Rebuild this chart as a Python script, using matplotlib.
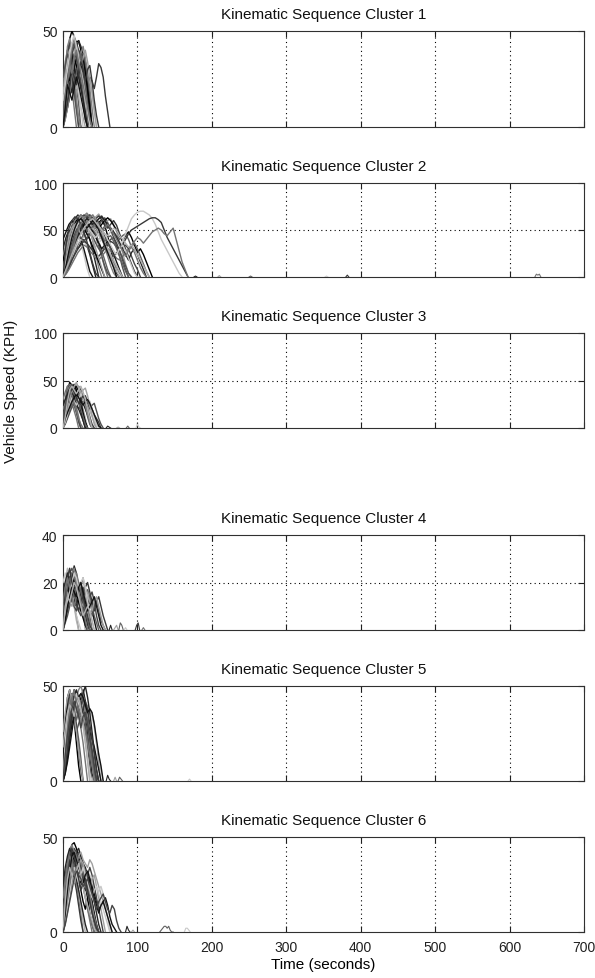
import numpy as np
import matplotlib
matplotlib.use("Agg")
import matplotlib.pyplot as plt

plt.rcParams['font.family'] = ['Liberation Sans', 'DejaVu Sans']

titles = ["Kinematic Sequence Cluster %d" % i for i in range(1, 7)]
y_limits = [50, 100, 100, 40, 50, 50]
y_ticks = [[0, 50], [0, 50, 100], [0, 50, 100], [0, 20, 40], [0, 50], [0, 50]]
h_grid = [[], [50], [50], [20], [], []]
x_ticks = [0, 100, 200, 300, 400, 500, 600, 700]
sample_dt = [3, 4, 3, 3, 3, 3]   # seconds between listed speed samples
blip_dt = 2

c1_traces = [
    [0, 14, 32, 46, 50, 47, 44, 45, 40, 33, 24, 14, 5, 0],
    [0, 8, 18, 30, 38, 42, 40, 36, 30, 22, 12, 3, 0],
    [0, 15, 28, 35, 40, 38, 42, 36, 30, 25, 15, 5, 0],
    [0, 5, 12, 22, 30, 34, 38, 40, 37, 30, 24, 16, 8, 0],
    [0, 10, 25, 33, 28, 20, 12, 5, 0],
    [0, 18, 35, 42, 38, 30, 22, 12, 0],
    [0, 6, 14, 24, 30, 35, 32, 28, 30, 33, 34, 30, 22, 18, 10, 0],
    [0, 4, 10, 16, 20, 24, 28, 26, 22, 20, 18, 22, 26, 24, 20, 26, 33, 31, 26, 16, 8, 0],
    [0, 20, 32, 38, 30, 18, 8, 0],
    [0, 10, 20, 28, 35, 40, 38, 33, 27, 35, 30, 20, 10, 0],
    [0, 14, 26, 36, 44, 40, 35, 30, 25, 20, 12, 0],
    [0, 25, 40, 44, 36, 25, 12, 0],
    [0, 8, 16, 25, 32, 38, 36, 30, 22, 15, 6, 0],
    [0, 12, 22, 30, 26, 18, 10, 4, 0],
    [0, 30, 42, 46, 40, 28, 15, 4, 0],
    [0, 6, 15, 20, 28, 35, 41, 45, 42, 38, 30, 20, 10, 0],
    [0, 10, 18, 24, 30, 27, 22, 16, 10, 5, 0],
    [0, 16, 30, 38, 35, 28, 32, 36, 30, 20, 8, 0],
    [0, 22, 36, 40, 42, 38, 30, 20, 10, 0],
    [0, 5, 10, 16, 22, 30, 36, 38, 34, 28, 20, 12, 6, 0],
    [22, 34, 40, 30, 20, 10, 0],
    [0, 10, 24, 35, 38, 32, 24, 28, 30, 22, 14, 4, 0],
    [18, 26, 30, 34, 30, 26, 20, 24, 28, 22, 12, 0],
    [0, 12, 20, 30, 38, 42, 44, 40, 36, 38, 34, 26, 16, 0],
    [0, 18, 28, 24, 30, 36, 32, 26, 30, 34, 28, 20, 10, 0],
    [26, 32, 38, 34, 40, 44, 38, 30, 22, 14, 4, 0],
    [0, 8, 20, 32, 42, 46, 40, 34, 38, 42, 36, 28, 20, 10, 0],
    [0, 12, 26, 22, 18, 24, 30, 26, 20, 14, 8, 0],
    [0, 4, 10, 18, 28, 36, 42, 38, 32, 36, 40, 34, 26, 18, 8, 0],
    [0, 20, 30, 36, 30, 24, 28, 34, 38, 32, 22, 12, 4, 0],
    [14, 22, 30, 38, 44, 48, 42, 36, 30, 24, 16, 8, 0],
    [0, 6, 12, 20, 30, 26, 22, 28, 34, 30, 24, 30, 32, 24, 14, 6, 0],
    [0, 16, 24, 32, 28, 36, 40, 34, 28, 22, 16, 10, 4, 0],
    [0, 10, 22, 18, 14, 20, 26, 22, 16, 10, 4, 0],
]
c1_blips = []

c2_traces = [
    [0, 18, 34, 46, 55, 60, 63, 58, 62, 65, 60, 52, 58, 61, 55, 44, 30, 16, 4, 0],
    [0, 10, 24, 38, 48, 56, 60, 64, 61, 66, 63, 58, 54, 60, 63, 58, 50, 42, 33, 22, 10, 0],
    [22, 36, 48, 55, 60, 56, 50, 55, 58, 50, 38, 24, 10, 0],
    [0, 26, 44, 56, 62, 66, 63, 58, 50, 40, 28, 14, 0],
    [0, 8, 18, 30, 42, 50, 56, 62, 58, 54, 60, 64, 67, 62, 57, 60, 62, 56, 48, 38, 26, 14, 4, 0],
    [0, 14, 28, 40, 52, 58, 54, 48, 52, 57, 53, 46, 38, 28, 18, 8, 0],
    [0, 30, 48, 58, 52, 44, 36, 24, 10, 0],
    [0, 6, 16, 28, 38, 48, 54, 60, 64, 62, 58, 62, 65, 61, 56, 52, 56, 60, 55, 46, 38, 30, 22, 14, 6, 0],
    [0, 20, 38, 50, 58, 64, 60, 55, 60, 62, 56, 46, 34, 22, 10, 0],
    [40, 48, 56, 60, 55, 48, 40, 30, 18, 6, 0],
    [0, 12, 26, 38, 46, 52, 48, 42, 46, 50, 44, 36, 40, 44, 38, 30, 22, 14, 6, 0],
    [0, 16, 32, 46, 56, 63, 66, 64, 60, 54, 58, 62, 58, 52, 44, 36, 40, 42, 36, 28, 18, 8, 0],
    [0, 5, 12, 22, 32, 42, 50, 56, 60, 63, 60, 56, 52, 56, 60, 63, 60, 55, 50, 44, 38, 44, 48, 42, 34, 26, 30, 24, 16, 8, 0],
    [0, 24, 42, 54, 60, 58, 52, 46, 40, 46, 50, 44, 34, 22, 12, 4, 0],
    [0, 10, 20, 32, 44, 54, 60, 65, 68, 64, 58, 52, 46, 40, 34, 28, 22, 16, 10, 4, 0],
    [30, 42, 50, 46, 38, 30, 36, 40, 34, 24, 12, 0],
    [0, 15, 30, 44, 54, 60, 64, 60, 56, 62, 66, 62, 55, 48, 40, 30, 20, 10, 0],
    [0, 4, 10, 18, 26, 34, 40, 46, 50, 54, 52, 48, 46, 50, 54, 56, 52, 48, 44, 40, 44, 46, 40, 32, 36, 30, 22, 14, 6, 0],
    [0, 6, 14, 22, 30, 36, 40, 38, 34, 30, 28, 32, 36, 40, 38, 34, 30, 26, 24, 30, 38, 46, 54, 62, 66, 69, 70, 70, 68, 66, 62, 56, 48, 40, 34, 28, 22, 16, 10, 4, 0],
    [0, 4, 10, 18, 24, 30, 34, 38, 36, 32, 28, 24, 22, 26, 30, 34, 38, 36, 32, 30, 34, 40, 46, 50, 52, 54, 56, 58, 60, 62, 63, 63, 61, 58, 50, 42, 36, 30, 24, 18, 12, 6, 0],
    [0, 3, 8, 14, 20, 26, 30, 34, 32, 28, 24, 20, 18, 22, 26, 30, 28, 24, 20, 18, 22, 26, 30, 34, 38, 42, 40, 36, 40, 44, 48, 50, 52, 50, 46, 44, 48, 52, 40, 28, 16, 8, 0],
    [0, 12, 24, 36, 46, 54, 58, 62, 58, 54, 48, 42, 36, 30, 34, 38, 32, 24, 16, 8, 0],
    [0, 20, 36, 48, 56, 60, 62, 64, 60, 56, 52, 48, 44, 40, 36, 30, 24, 18, 12, 6, 0],
    [0, 8, 20, 34, 46, 56, 62, 66, 64, 66, 62, 58, 62, 65, 60, 54, 50, 46, 42, 36, 30, 34, 30, 22, 14, 8, 0],
    [18, 30, 42, 52, 58, 62, 58, 52, 46, 40, 32, 24, 16, 8, 0],
    [0, 14, 26, 34, 40, 44, 42, 38, 42, 46, 42, 36, 30, 26, 32, 36, 30, 22, 26, 28, 20, 12, 4, 0],
    [0, 22, 40, 52, 60, 64, 66, 62, 58, 64, 66, 60, 52, 42, 32, 22, 12, 4, 0],
    [0, 6, 14, 24, 34, 44, 52, 58, 62, 60, 56, 58, 62, 64, 60, 56, 52, 48, 42, 36, 30, 24, 18, 26, 30, 24, 16, 8, 0],
    [0, 28, 44, 52, 56, 52, 46, 50, 54, 48, 40, 30, 20, 10, 0],
    [0, 10, 22, 34, 44, 52, 58, 60, 56, 50, 54, 58, 52, 44, 38, 42, 44, 38, 30, 22, 14, 6, 0],
    [0, 16, 30, 42, 50, 56, 60, 58, 54, 50, 46, 42, 46, 50, 46, 40, 34, 28, 24, 30, 34, 28, 20, 12, 4, 0],
    [0, 34, 52, 60, 64, 62, 56, 48, 38, 26, 14, 4, 0],
    [0, 5, 14, 26, 38, 48, 56, 62, 66, 64, 60, 56, 52, 48, 52, 56, 52, 46, 40, 34, 28, 22, 28, 32, 26, 18, 10, 4, 0],
    [0, 12, 28, 42, 52, 60, 62, 58, 52, 56, 60, 56, 50, 42, 34, 26, 18, 10, 0],
    [0, 8, 16, 24, 32, 40, 46, 52, 56, 60, 62, 58, 54, 50, 46, 44, 48, 52, 50, 44, 40, 36, 32, 34, 30, 24, 18, 12, 6, 0],
]
c2_blips = [(176, [0, 1, 0]), (208, [0, 1.5, 0]), (250, [0, 1, 0]), (352, [0, 1, 0]),
            (380, [0, 2, 0]), (634, [0, 3, 2, 3, 0])]

c3_traces = [
    [0, 20, 38, 48, 45, 40, 35, 28, 18, 8, 0],
    [0, 12, 28, 40, 46, 42, 38, 44, 40, 32, 22, 12, 4, 0],
    [0, 25, 40, 44, 38, 30, 22, 12, 0],
    [0, 8, 18, 28, 36, 40, 38, 34, 30, 26, 20, 14, 8, 0],
    [0, 15, 30, 38, 34, 28, 30, 34, 28, 20, 10, 0],
    [0, 30, 44, 46, 40, 30, 18, 6, 0],
    [0, 10, 20, 32, 40, 44, 46, 42, 36, 30, 24, 30, 28, 20, 12, 0],
    [0, 5, 12, 20, 28, 34, 30, 26, 28, 32, 34, 28, 24, 20, 14, 10, 6, 0],
    [20, 28, 36, 32, 26, 18, 10, 0],
    [0, 18, 32, 40, 36, 40, 44, 38, 28, 16, 6, 0],
    [0, 6, 14, 22, 30, 36, 38, 40, 36, 30, 26, 22, 18, 12, 6, 0],
    [0, 22, 34, 38, 32, 24, 16, 8, 0],
    [0, 10, 26, 36, 42, 46, 40, 30, 22, 14, 6, 0],
    [0, 4, 10, 16, 22, 26, 24, 20, 24, 28, 30, 26, 20, 24, 26, 18, 10, 4, 0],
    [0, 14, 26, 34, 40, 36, 30, 34, 38, 32, 24, 14, 6, 0],
    [24, 30, 36, 42, 38, 32, 26, 20, 14, 8, 0],
    [0, 8, 18, 30, 38, 44, 48, 42, 36, 40, 42, 34, 24, 14, 4, 0],
    [0, 20, 30, 26, 22, 28, 32, 26, 20, 12, 4, 0],
    [0, 6, 14, 24, 32, 28, 24, 30, 36, 32, 26, 30, 28, 20, 12, 4, 0],
    [0, 16, 28, 36, 42, 38, 32, 26, 30, 34, 28, 20, 12, 4, 0],
    [30, 38, 44, 40, 34, 26, 18, 10, 4, 0],
    [0, 10, 16, 22, 28, 32, 36, 32, 28, 24, 28, 30, 26, 20, 14, 8, 2, 0],
    [0, 12, 28, 40, 44, 40, 36, 40, 44, 38, 30, 20, 10, 0],
]
c3_blips = [(58, [0, 2, 1, 0]), (72, [0, 1, 0]), (85, [0, 2, 0]), (98, [0, 4, 1, 0])]

c4_traces = [
    [0, 12, 22, 25, 20, 16, 12, 18, 20, 14, 8, 3, 0],
    [0, 8, 16, 24, 26, 22, 18, 14, 10, 16, 18, 12, 6, 0],
    [0, 18, 24, 20, 15, 10, 6, 0],
    [0, 6, 12, 18, 22, 27, 24, 18, 14, 10, 6, 2, 0],
    [0, 14, 20, 24, 18, 12, 16, 20, 15, 8, 0],
    [0, 10, 16, 14, 18, 22, 20, 16, 12, 8, 14, 17, 14, 10, 6, 3, 0],
    [20, 24, 22, 18, 14, 10, 6, 3, 0],
    [0, 4, 8, 12, 15, 18, 16, 14, 12, 15, 18, 20, 16, 12, 8, 12, 14, 10, 6, 3, 0],
    [0, 16, 22, 18, 14, 20, 24, 20, 14, 8, 4, 0],
    [0, 8, 14, 20, 16, 12, 10, 14, 16, 12, 8, 10, 12, 8, 4, 0],
    [0, 20, 26, 22, 16, 10, 4, 0],
    [0, 5, 10, 14, 12, 10, 8, 12, 16, 18, 14, 10, 14, 16, 12, 6, 2, 0],
    [0, 10, 18, 22, 24, 20, 16, 12, 8, 5, 2, 0],
    [0, 3, 6, 10, 14, 12, 10, 8, 6, 10, 12, 10, 8, 6, 10, 12, 8, 4, 2, 0],
    [0, 14, 22, 18, 24, 26, 20, 14, 18, 22, 16, 10, 4, 0],
    [16, 20, 24, 20, 16, 12, 16, 18, 14, 8, 2, 0],
    [0, 8, 16, 12, 10, 14, 18, 16, 12, 10, 14, 16, 12, 8, 12, 14, 10, 6, 2, 0],
    [0, 12, 18, 22, 18, 14, 18, 20, 16, 12, 8, 4, 0],
    [0, 6, 12, 16, 20, 24, 22, 18, 20, 22, 18, 12, 8, 4, 0],
    [0, 18, 22, 26, 20, 16, 12, 8, 12, 14, 10, 6, 2, 0],
    [12, 18, 22, 18, 14, 10, 14, 16, 12, 8, 4, 0],
    [0, 4, 10, 14, 18, 16, 14, 18, 20, 16, 12, 8, 10, 12, 14, 10, 6, 2, 0],
    [0, 10, 14, 12, 16, 20, 18, 14, 10, 6, 8, 10, 8, 4, 0],
]
c4_blips = [(62, [0, 2, 0]), (68, [0, 1, 2, 0]), (75, [0, 3, 2, 0]), (82, [0, 1, 0]),
            (97, [0, 2, 3, 0]), (106, [0, 1, 0])]

c5_traces = [
    [0, 10, 25, 35, 42, 48, 46, 40, 44, 48, 42, 34, 24, 14, 6, 0],
    [0, 20, 36, 44, 46, 42, 40, 44, 46, 40, 30, 18, 8, 0],
    [0, 6, 16, 26, 34, 40, 44, 48, 50, 46, 40, 32, 24, 14, 4, 0],
    [0, 14, 30, 40, 46, 44, 38, 34, 40, 44, 36, 26, 14, 4, 0],
    [0, 8, 20, 32, 38, 42, 44, 42, 38, 34, 38, 40, 38, 36, 30, 20, 10, 0],
    [0, 24, 38, 44, 40, 36, 30, 22, 12, 0],
    [0, 5, 14, 24, 34, 40, 38, 34, 30, 36, 38, 34, 36, 34, 28, 20, 14, 6, 0],
    [20, 32, 40, 46, 44, 38, 28, 16, 6, 0],
    [0, 12, 26, 38, 44, 48, 44, 36, 28, 20, 10, 0],
    [0, 4, 12, 22, 30, 36, 40, 42, 40, 38, 34, 30, 26, 22, 18, 12, 6, 0],
    [0, 18, 30, 38, 42, 40, 34, 38, 42, 36, 24, 12, 0],
    [0, 8, 18, 28, 36, 42, 46, 44, 40, 36, 34, 30, 24, 16, 8, 0],
    [0, 30, 44, 48, 42, 32, 20, 8, 0],
    [0, 10, 22, 30, 34, 30, 26, 30, 34, 32, 28, 22, 18, 12, 6, 2, 0],
    [0, 16, 32, 42, 46, 40, 36, 42, 46, 42, 36, 30, 20, 10, 0],
    [0, 6, 14, 24, 36, 44, 48, 44, 40, 46, 50, 44, 36, 26, 16, 6, 0],
    [26, 36, 44, 48, 42, 34, 26, 16, 8, 0],
    [0, 10, 22, 34, 42, 38, 32, 36, 42, 44, 40, 32, 22, 12, 4, 0],
    [0, 20, 34, 40, 36, 42, 46, 40, 34, 28, 20, 12, 4, 0],
    [0, 8, 16, 26, 34, 40, 42, 38, 34, 38, 42, 38, 30, 22, 14, 6, 0],
    [0, 12, 28, 38, 44, 46, 42, 38, 34, 30, 26, 20, 14, 8, 2, 0],
    [0, 4, 10, 18, 26, 34, 40, 44, 46, 44, 40, 36, 38, 36, 30, 22, 14, 8, 0],
    [18, 28, 36, 40, 38, 34, 40, 44, 38, 30, 20, 10, 0],
    [0, 14, 24, 32, 38, 42, 38, 34, 28, 34, 36, 30, 22, 16, 8, 0],
]
c5_blips = [(58, [0, 3, 1, 0]), (68, [0, 2, 0]), (74, [0, 2, 1, 0]), (168, [0, 1, 0])]

c6_traces = [
    [0, 18, 34, 42, 46, 47, 44, 40, 36, 30, 24, 18, 10, 4, 0],
    [0, 10, 24, 36, 42, 40, 38, 42, 40, 36, 32, 28, 22, 16, 8, 0],
    [0, 24, 38, 44, 40, 34, 26, 18, 10, 0],
    [0, 6, 14, 24, 32, 38, 42, 44, 40, 36, 34, 30, 26, 22, 16, 10, 4, 0],
    [0, 4, 10, 18, 26, 32, 36, 40, 42, 38, 36, 34, 38, 36, 32, 28, 24, 20, 16, 12, 8, 4, 0],
    [0, 14, 28, 36, 40, 38, 34, 30, 34, 36, 32, 26, 20, 14, 8, 2, 0],
    [0, 8, 16, 24, 30, 34, 36, 34, 30, 28, 30, 32, 30, 26, 22, 18, 22, 24, 20, 14, 8, 0],
    [20, 30, 36, 38, 34, 28, 22, 14, 6, 0],
    [0, 12, 24, 34, 40, 42, 40, 36, 30, 24, 18, 12, 6, 0],
    [0, 5, 12, 20, 28, 32, 30, 28, 26, 24, 22, 26, 28, 24, 20, 16, 12, 14, 16, 18, 14, 8, 4, 2, 0],
    [0, 20, 32, 38, 40, 36, 30, 22, 14, 6, 0],
    [0, 10, 20, 30, 38, 44, 42, 38, 34, 30, 26, 30, 34, 30, 24, 18, 12, 6, 0],
    [0, 16, 30, 38, 42, 38, 34, 28, 22, 16, 12, 18, 20, 16, 10, 4, 0],
    [0, 6, 14, 22, 30, 36, 38, 36, 32, 28, 24, 20, 16, 12, 8, 4, 0],
    [0, 14, 30, 42, 46, 42, 36, 40, 38, 32, 28, 24, 20, 14, 8, 2, 0],
    [24, 34, 40, 44, 40, 34, 28, 22, 16, 10, 4, 0],
    [0, 8, 18, 30, 38, 42, 38, 34, 38, 36, 30, 26, 22, 28, 30, 24, 18, 12, 6, 0],
    [0, 20, 34, 42, 38, 34, 30, 26, 30, 32, 28, 22, 16, 10, 4, 0],
    [0, 6, 12, 20, 28, 34, 30, 26, 30, 34, 30, 26, 22, 18, 22, 24, 20, 16, 12, 8, 4, 0],
    [0, 12, 26, 38, 44, 40, 34, 28, 22, 26, 28, 22, 16, 10, 6, 2, 0],
    [18, 28, 36, 40, 36, 30, 34, 36, 30, 24, 18, 12, 8, 4, 0],
    [0, 10, 22, 32, 40, 42, 38, 34, 30, 26, 30, 32, 28, 22, 18, 14, 10, 14, 16, 12, 8, 4, 0],
    [0, 16, 28, 34, 30, 26, 32, 36, 30, 24, 18, 14, 10, 6, 2, 0],
    [0, 4, 10, 16, 22, 28, 32, 30, 28, 24, 26, 28, 24, 20, 16, 12, 16, 18, 20, 16, 12, 10, 14, 12, 6, 2, 0],
]
c6_blips = [(84, [0, 3, 1, 0]), (92, [0, 1, 0]), (130, [0, 1, 2, 3, 3, 2, 3, 1, 0, 0]),
            (163, [0, 2, 2, 1, 0])]

all_traces = [c1_traces, c2_traces, c3_traces, c4_traces, c5_traces, c6_traces]
all_blips = [c1_blips, c2_blips, c3_blips, c4_blips, c5_blips, c6_blips]

grays = ['#000000', '#505050', '#808080', '#242424', '#a0a0a0', '#606060',
         '#c8c8c8', '#383838', '#747474', '#121212', '#b0b0b0', '#444444']

fig = plt.figure(figsize=(5.95, 9.79), dpi=100)
W, H = 595.0, 979.0
left, right = 63, 584
panel_px = [(32, 128), (184, 278), (334, 429), (536, 631), (687, 782), (838, 933)]

axes = []
for i in range(6):
    top, bot = panel_px[i]
    ax = fig.add_axes([left / W, 1 - bot / H, (right - left) / W, (bot - top) / H])
    axes.append(ax)
    dt = sample_dt[i]
    for k, tr in enumerate(all_traces[i]):
        t = np.arange(len(tr)) * dt
        ax.plot(t, tr, color=grays[k % len(grays)], lw=1.0, zorder=3)
    for k, (t0, vals) in enumerate(all_blips[i]):
        t = t0 + np.arange(len(vals)) * blip_dt
        ax.plot(t, vals, color=grays[(k + 3) % len(grays)], lw=0.8, zorder=3)
    ax.set_xlim(0, 700)
    ax.set_ylim(0, y_limits[i])
    ax.set_xticks(x_ticks)
    ax.set_yticks(y_ticks[i])
    for xv in x_ticks[1:-1]:
        ax.axvline(xv, color='black', ls=(0, (1, 3)), lw=0.8, zorder=1)
    for yv in h_grid[i]:
        ax.axhline(yv, color='black', ls=(0, (1, 3)), lw=0.8, zorder=1)
    ax.tick_params(direction='in', top=True, right=True, length=4, width=0.8,
                   labelsize=10, colors='#202020')
    ax.tick_params(axis='x', pad=6)
    ax.tick_params(axis='y', pad=4)
    if i < 5:
        ax.set_xticklabels([])
    for s in ax.spines.values():
        s.set_color('#303030')
        s.set_linewidth(0.8)
    ax.set_title(titles[i], fontsize=11, pad=9, color='#101010')

axes[-1].set_xlabel("Time (seconds)", fontsize=11, labelpad=2)
fig.text(11 / W, 1 - 391 / H, "Vehicle Speed (KPH)", rotation=90, fontsize=11,
         ha='center', va='center', color='#101010')

fig.savefig("out.png", dpi=100, facecolor='white')
